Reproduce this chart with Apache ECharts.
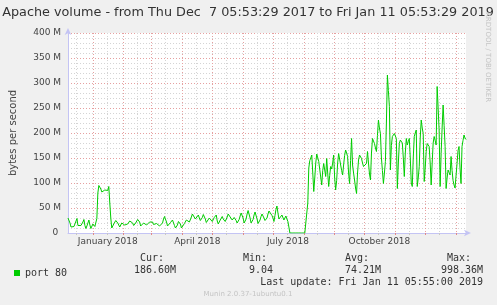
<!DOCTYPE html>
<html><head><meta charset="utf-8">
<script src="https://cdn.jsdelivr.net/npm/echarts@6/dist/echarts.min.js"></script>
<style>html,body{margin:0;padding:0;background:#f0f0f0}#c{width:497px;height:305px}</style>
</head><body><div id="c"></div>
<script>
// first day of the series (one value per day)
const startDate = [2017, 11, 7];
// bytes per second, in M, daily
const volumeA = [30,29,20,12,11,12,13,12,13,29, 15,11,13,15,16,22,27,15,9,14,
  20,26,16,9,12,18,19,13,16,29, 80,95,93,88,82,80,84,86,84,87, 85,93,60,30];
const volumeB = [10,12,18,22,25,26,20,17,12,15, 20,23,22,16,12,13,18,22,24,25,
  26,20,15,16,20,24,27,29,22,14, 13,17,20,23,20,16,14,18,22,24,
  26,22,17,16,18,19,19,17,14,12, 13,20,28,33,36,22,14,13,17,21,
  24,26,22,15,10,9,16,23,27,18, 10,9,14,19,23,26,29,27,22,25,
  32,38,41,34,28,26,31,36,30,25, 23,31,37,39,28,21,19,25,30,33,
  27,23,25,31,34,36,24,18,20,26, 30,33,28,24,23,23,32,38,41,32,
  28,26,29,31,33,25,20,19,27,34, 40,43,30,20,18,28,38,45,49,30,
  20,19,27,36,42,45,28,19,18,26, 33,38,39,30,25,23,30,38,44,47,
  43,35,30,23,35,47,54,40,28,25, 30,36,32,26,30,34,28,23,12];
const volumeC = [0,0,0,0,0,0,0,0,0,0, 0,0,0,0,0,0,0,0];
const volumeD = [60,130,145,150,156,120,83,110,140,158, 161,143,143,140,96,125,139,142,113,149,
  120,93,115,133,128,140,156,110,86,105, 140,159,163,160,125,116,136,155,166,160,
  153,120,99,145,189,136,120,106,90,79, 120,146,156,152,149,140,133,129,134,139,
  163,140,118,106,160,189,185,179,170,163, 195,226,210,199,150,125,99,120,143,220,
  316,285,253,126,175,193,196,199,203,189, 89,140,179,186,189,180,150,113,160,189,
  176,183,189,150,100,93,150,193,200,206, 93,110,133,190,226,210,199,103,130,163,
  179,175,173,140,96,140,180,193,185,176, 293,250,206,93,159,210,256,215,173,89,
  110,126,121,116,153,125,105,96,90,86, 139,165,173,130,99,173,185,196,190,187];
const volume = volumeA.concat(volumeB, volumeC, volumeD);
const monthNames = ['January','February','March','April','May','June','July','August','September','October','November','December'];
const labelledMonths = [0, 3, 6, 9];
const yTicks = [0, 50, 100, 150, 200, 250, 300, 350, 400];

const days = volume.map((_, i) => {
  const d = new Date(Date.UTC(startDate[0], startDate[1], startDate[2] + i));
  return d.getUTCFullYear() + '-' + String(d.getUTCMonth() + 1).padStart(2, '0') + '-' + String(d.getUTCDate()).padStart(2, '0');
});
const isMonthStart = (i, v) => v.slice(8) === '01';
const isMidMonth = (i, v) => v.slice(8) === '15';
const isLabelDay = v => v.slice(8) === '16' && labelledMonths.indexOf(+v.slice(5, 7) - 1) >= 0;

const F = 'DejaVu Sans';
const M = 'DejaVu Sans Mono';
const chart = echarts.init(document.getElementById('c'), null, {renderer: 'canvas'});
const mono = (text, x, y, align) => ({type: 'text', x: x, y: y, silent: true,
  style: {text: text, font: '10px "' + M + '"', fill: '#333', textAlign: align || 'left', textVerticalAlign: 'middle'}});
chart.setOption({
  animation: false,
  backgroundColor: '#f0f0f0',
  grid: {left: 66, right: 31, top: 33, bottom: 72, show: true, backgroundColor: '#ffffff', borderWidth: 0},
  legend: {data: ['port 80'], left: 9, top: 263, icon: 'rect', itemWidth: 6, itemHeight: 6,
    textStyle: {fontFamily: M, fontSize: 10, color: '#333'}},
  xAxis: [{
    type: 'category', data: days, boundaryGap: false,
    axisLine: {lineStyle: {color: '#c4c4f4'}, symbol: ['none', 'arrow'], symbolSize: [5, 7], symbolOffset: [0, 5]},
    axisTick: {show: true, interval: isMonthStart, length: 2, lineStyle: {color: '#e08a8a'}},
    axisLabel: {interval: 0, hideOverlap: false, showMinLabel: false, showMaxLabel: false, color: '#444', fontFamily: F, fontSize: 9, margin: 4,
      formatter: v => isLabelDay(v) ? monthNames[+v.slice(5, 7) - 1] + ' ' + v.slice(0, 4) : ''},
    splitLine: {show: true, interval: isMonthStart, lineStyle: {color: '#e6a0a0', type: [1, 2], width: 1}}
  }, {
    type: 'category', data: days, boundaryGap: false, position: 'bottom',
    axisLine: {show: false},
    axisTick: {show: true, interval: isMidMonth, length: 2, lineStyle: {color: '#c8c8c8'}},
    axisLabel: {show: false},
    splitLine: {show: true, interval: isMidMonth, lineStyle: {color: '#d4d4d4', type: [1, 2], width: 1}}
  }],
  yAxis: {
    type: 'value', min: yTicks[0], max: yTicks[yTicks.length - 1], interval: 50,
    axisLine: {show: true, lineStyle: {color: '#c4c4f4'}, symbol: ['none', 'arrow'], symbolSize: [5, 7], symbolOffset: [0, 5]},
    axisTick: {show: false},
    axisLabel: {formatter: v => v === 0 ? '0 ' : v + ' M', color: '#444', fontFamily: F, fontSize: 9, margin: 7},
    splitLine: {lineStyle: {color: '#e6a0a0', type: [1, 2], width: 1}},
    minorTick: {show: false, splitNumber: 5},
    minorSplitLine: {show: true, lineStyle: {color: '#d4d4d4', type: [1, 2], width: 1}},
    name: 'bytes per second', nameLocation: 'middle', nameGap: 50,
    nameTextStyle: {fontFamily: F, fontSize: 10, color: '#444'}
  },
  series: [{
    name: 'port 80', type: 'line', data: volume, symbol: 'none', z: 5,
    lineStyle: {color: '#00cc00', width: 1}, itemStyle: {color: '#00cc00'}
  }],
  graphic: [
    {type: 'text', x: 248, y: 13, silent: true, style: {text: 'Apache volume - from Thu Dec  7 05:53:29 2017 to Fri Jan 11 05:53:29 2019',
      font: '12.8px "' + F + '"', fill: '#333', textAlign: 'center', textVerticalAlign: 'middle'}},
    {type: 'text', x: 488, y: 12, rotation: -Math.PI / 2, silent: true, style: {text: 'RRDTOOL / TOBI OETIKER',
      font: '7px "' + F + '"', fill: '#c4c4c4', textAlign: 'left', textVerticalAlign: 'middle'}},
    mono('Cur:', 140, 258), mono('Min:', 243, 258), mono('Avg:', 345, 258), mono('Max:', 447, 258),
    mono('186.60M', 134, 270), mono('9.04', 249, 270), mono('74.21M', 345, 270), mono('998.36M', 441, 270),
    mono('Last update: Fri Jan 11 05:55:00 2019', 483, 282, 'right'),
    {type: 'text', x: 248, y: 294, silent: true, style: {text: 'Munin 2.0.37-1ubuntu0.1',
      font: '7px "' + F + '"', fill: '#c4c4c4', textAlign: 'center', textVerticalAlign: 'middle'}}
  ]
});
</script></body></html>
